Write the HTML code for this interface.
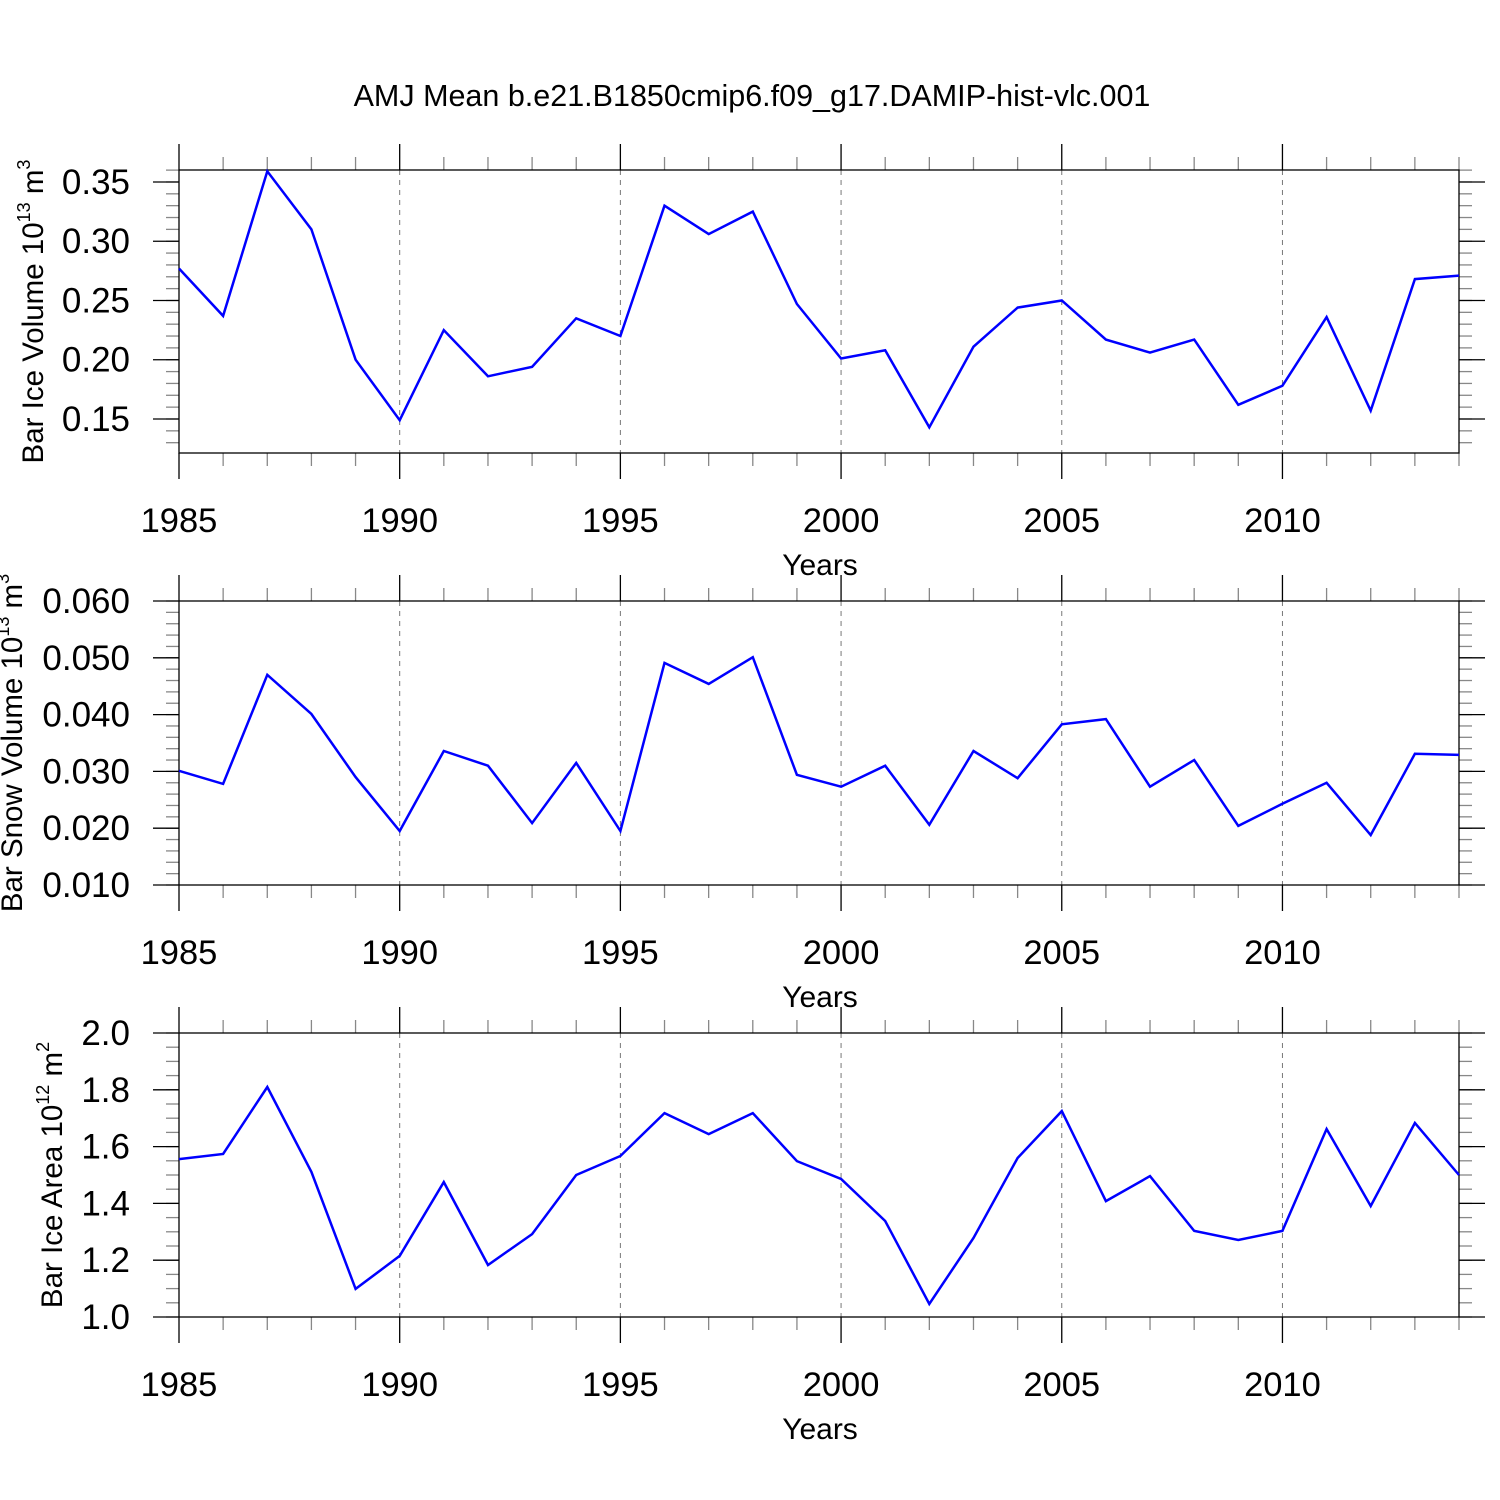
<!DOCTYPE html>
<html><head><meta charset="utf-8"><style>
html,body{margin:0;padding:0;background:#fff;}
svg{display:block;font-family:"Liberation Sans",Arial,sans-serif;}
</style></head><body>
<svg id="chart" width="1500" height="1500" viewBox="0 0 1500 1500" xmlns="http://www.w3.org/2000/svg">
<rect width="1500" height="1500" fill="#fff"/>
<text x="752" y="106" font-size="30.5" text-anchor="middle">AMJ Mean b.e21.B1850cmip6.f09_g17.DAMIP-hist-vlc.001</text>
</svg>
<script>
const years = [1985,1986,1987,1988,1989,1990,1991,1992,1993,1994,1995,1996,1997,1998,1999,2000,2001,2002,2003,2004,2005,2006,2007,2008,2009,2010,2011,2012,2013,2014];
const iceVolume = [0.277,0.237,0.359,0.310,0.200,0.149,0.225,0.186,0.194,0.235,0.220,0.330,0.306,0.325,0.247,0.201,0.208,0.143,0.211,0.244,0.250,0.217,0.206,0.217,0.162,0.178,0.236,0.157,0.268,0.271];
const snowVolume = [0.0301,0.0278,0.0470,0.0401,0.0290,0.0195,0.0336,0.0310,0.0209,0.0315,0.0195,0.0491,0.0454,0.0501,0.0294,0.0273,0.0310,0.0206,0.0336,0.0288,0.0383,0.0392,0.0273,0.0320,0.0204,0.0243,0.0280,0.0188,0.0331,0.0329];
const iceArea = [1.556,1.574,1.810,1.511,1.099,1.215,1.475,1.183,1.292,1.500,1.567,1.718,1.644,1.718,1.549,1.486,1.338,1.046,1.278,1.560,1.725,1.408,1.496,1.303,1.271,1.303,1.662,1.391,1.683,1.500];
const xTickLabels = [1985,1990,1995,2000,2005,2010];
const volTicks = [0.15,0.20,0.25,0.30,0.35];
const volTickLabels = ["0.15","0.20","0.25","0.30","0.35"];
const snowTicks = [0.010,0.020,0.030,0.040,0.050,0.060];
const snowTickLabels = ["0.010","0.020","0.030","0.040","0.050","0.060"];
const areaTicks = [1.0,1.2,1.4,1.6,1.8,2.0];
const areaTickLabels = ["1.0","1.2","1.4","1.6","1.8","2.0"];

const NS="http://www.w3.org/2000/svg";
const svg=document.getElementById('chart');
function mk(tag,attrs,parent){const e=document.createElementNS(NS,tag);for(const k in attrs)e.setAttribute(k,attrs[k]);(parent||svg).appendChild(e);return e;}
const X0=179,X1=1459;
function xs(yr){return X0+(yr-1985)*(X1-X0)/(2014-1985);}

const panels=[
 {name:'ice-volume',top:170,bot:453,ymin:0.1213,ymax:0.3601,data:iceVolume,ticks:volTicks,labels:volTickLabels,minor:0.01,lab:'Bar Ice Volume 10',exp:'13',unit:' m',uexp:'3',labx:43},
 {name:'snow-volume',top:601,bot:885,ymin:0.010,ymax:0.060,data:snowVolume,ticks:snowTicks,labels:snowTickLabels,minor:0.002,lab:'Bar Snow Volume 10',exp:'13',unit:' m',uexp:'3',labx:22},
 {name:'ice-area',top:1033,bot:1317,ymin:1.0,ymax:2.0,data:iceArea,ticks:areaTicks,labels:areaTickLabels,minor:0.05,lab:'Bar Ice Area 10',exp:'12',unit:' m',uexp:'2',labx:62}
];
panels.forEach(p=>{
 const g=mk('g',{});
 
 
 const ys=v=>p.bot-(v-p.ymin)*(p.bot-p.top)/(p.ymax-p.ymin);
 [1990,1995,2000,2005,2010].forEach(yr=>{
  const l=mk('line',{x1:xs(yr),x2:xs(yr),y1:p.top,y2:p.bot,stroke:'#777','stroke-width':1,'stroke-dasharray':'5,5'},g);
  
  
 });
 years.forEach(yr=>{
  const major=(yr%5===0);
  const len=major?26:13;
  mk('line',{x1:xs(yr),x2:xs(yr),y1:p.bot,y2:p.bot+len,stroke:major?'#000':'#888','stroke-width':1.3},g);
  mk('line',{x1:xs(yr),x2:xs(yr),y1:p.top,y2:p.top-len,stroke:major?'#000':'#888','stroke-width':1.3},g);
 });
 xTickLabels.forEach(yr=>{
  const t=mk('text',{x:xs(yr),y:p.bot+79,'font-size':34.5,'text-anchor':'middle'},g);
  
  
  t.textContent=yr;
 });
 const xt=mk('text',{x:820,y:p.bot+122,'font-size':30,'text-anchor':'middle'},g);
 
 
 xt.textContent='Years';
 const n=Math.round((p.ymax-p.ymin)/p.minor)+2;
 const start=Math.ceil(p.ymin/p.minor-1e-6)*p.minor;
 for(let i=0;i<n;i++){
  const v=start+i*p.minor; if(v>p.ymax+1e-9)break;
  const y=ys(v);
  mk('line',{x1:X0,x2:X0-13,y1:y,y2:y,stroke:'#888','stroke-width':1.3},g);
  mk('line',{x1:X1,x2:X1+13,y1:y,y2:y,stroke:'#888','stroke-width':1.3},g);
 }
 p.ticks.forEach((v,i)=>{
  const y=ys(v);
  mk('line',{x1:X0,x2:X0-26,y1:y,y2:y,stroke:'#000','stroke-width':1.3},g);
  mk('line',{x1:X1,x2:X1+26,y1:y,y2:y,stroke:'#000','stroke-width':1.3},g);
  const t=mk('text',{x:130,y:y+12,'font-size':35,'text-anchor':'end'},g);
  
  
  t.textContent=p.labels[i];
 });
 mk('rect',{x:X0,y:p.top,width:X1-X0,height:p.bot-p.top,fill:'none',stroke:'#000','stroke-width':1.3},g);
 const cy=(p.top+p.bot)/2;
 const yt=mk('text',{x:p.labx,y:cy,'font-size':29.5,'text-anchor':'middle',transform:`rotate(-90 ${p.labx} ${cy})`},g);
 
 
 const s1=mk('tspan',{},yt);s1.textContent=p.lab;
 const s2=mk('tspan',{dy:-13,'font-size':18},yt);s2.textContent=p.exp;
 const s3=mk('tspan',{dy:13},yt);s3.textContent=p.unit;
 const s4=mk('tspan',{dy:-13,'font-size':18},yt);s4.textContent=p.uexp;
 const pts=years.map((yr,i)=>xs(yr).toFixed(1)+','+ys(p.data[i]).toFixed(1)).join(' ');
 const pl=mk('polyline',{points:pts,fill:'none',stroke:'#0000ff','stroke-width':2.5,'stroke-linejoin':'miter'},g);
 
 
});
</script>
</body></html>
